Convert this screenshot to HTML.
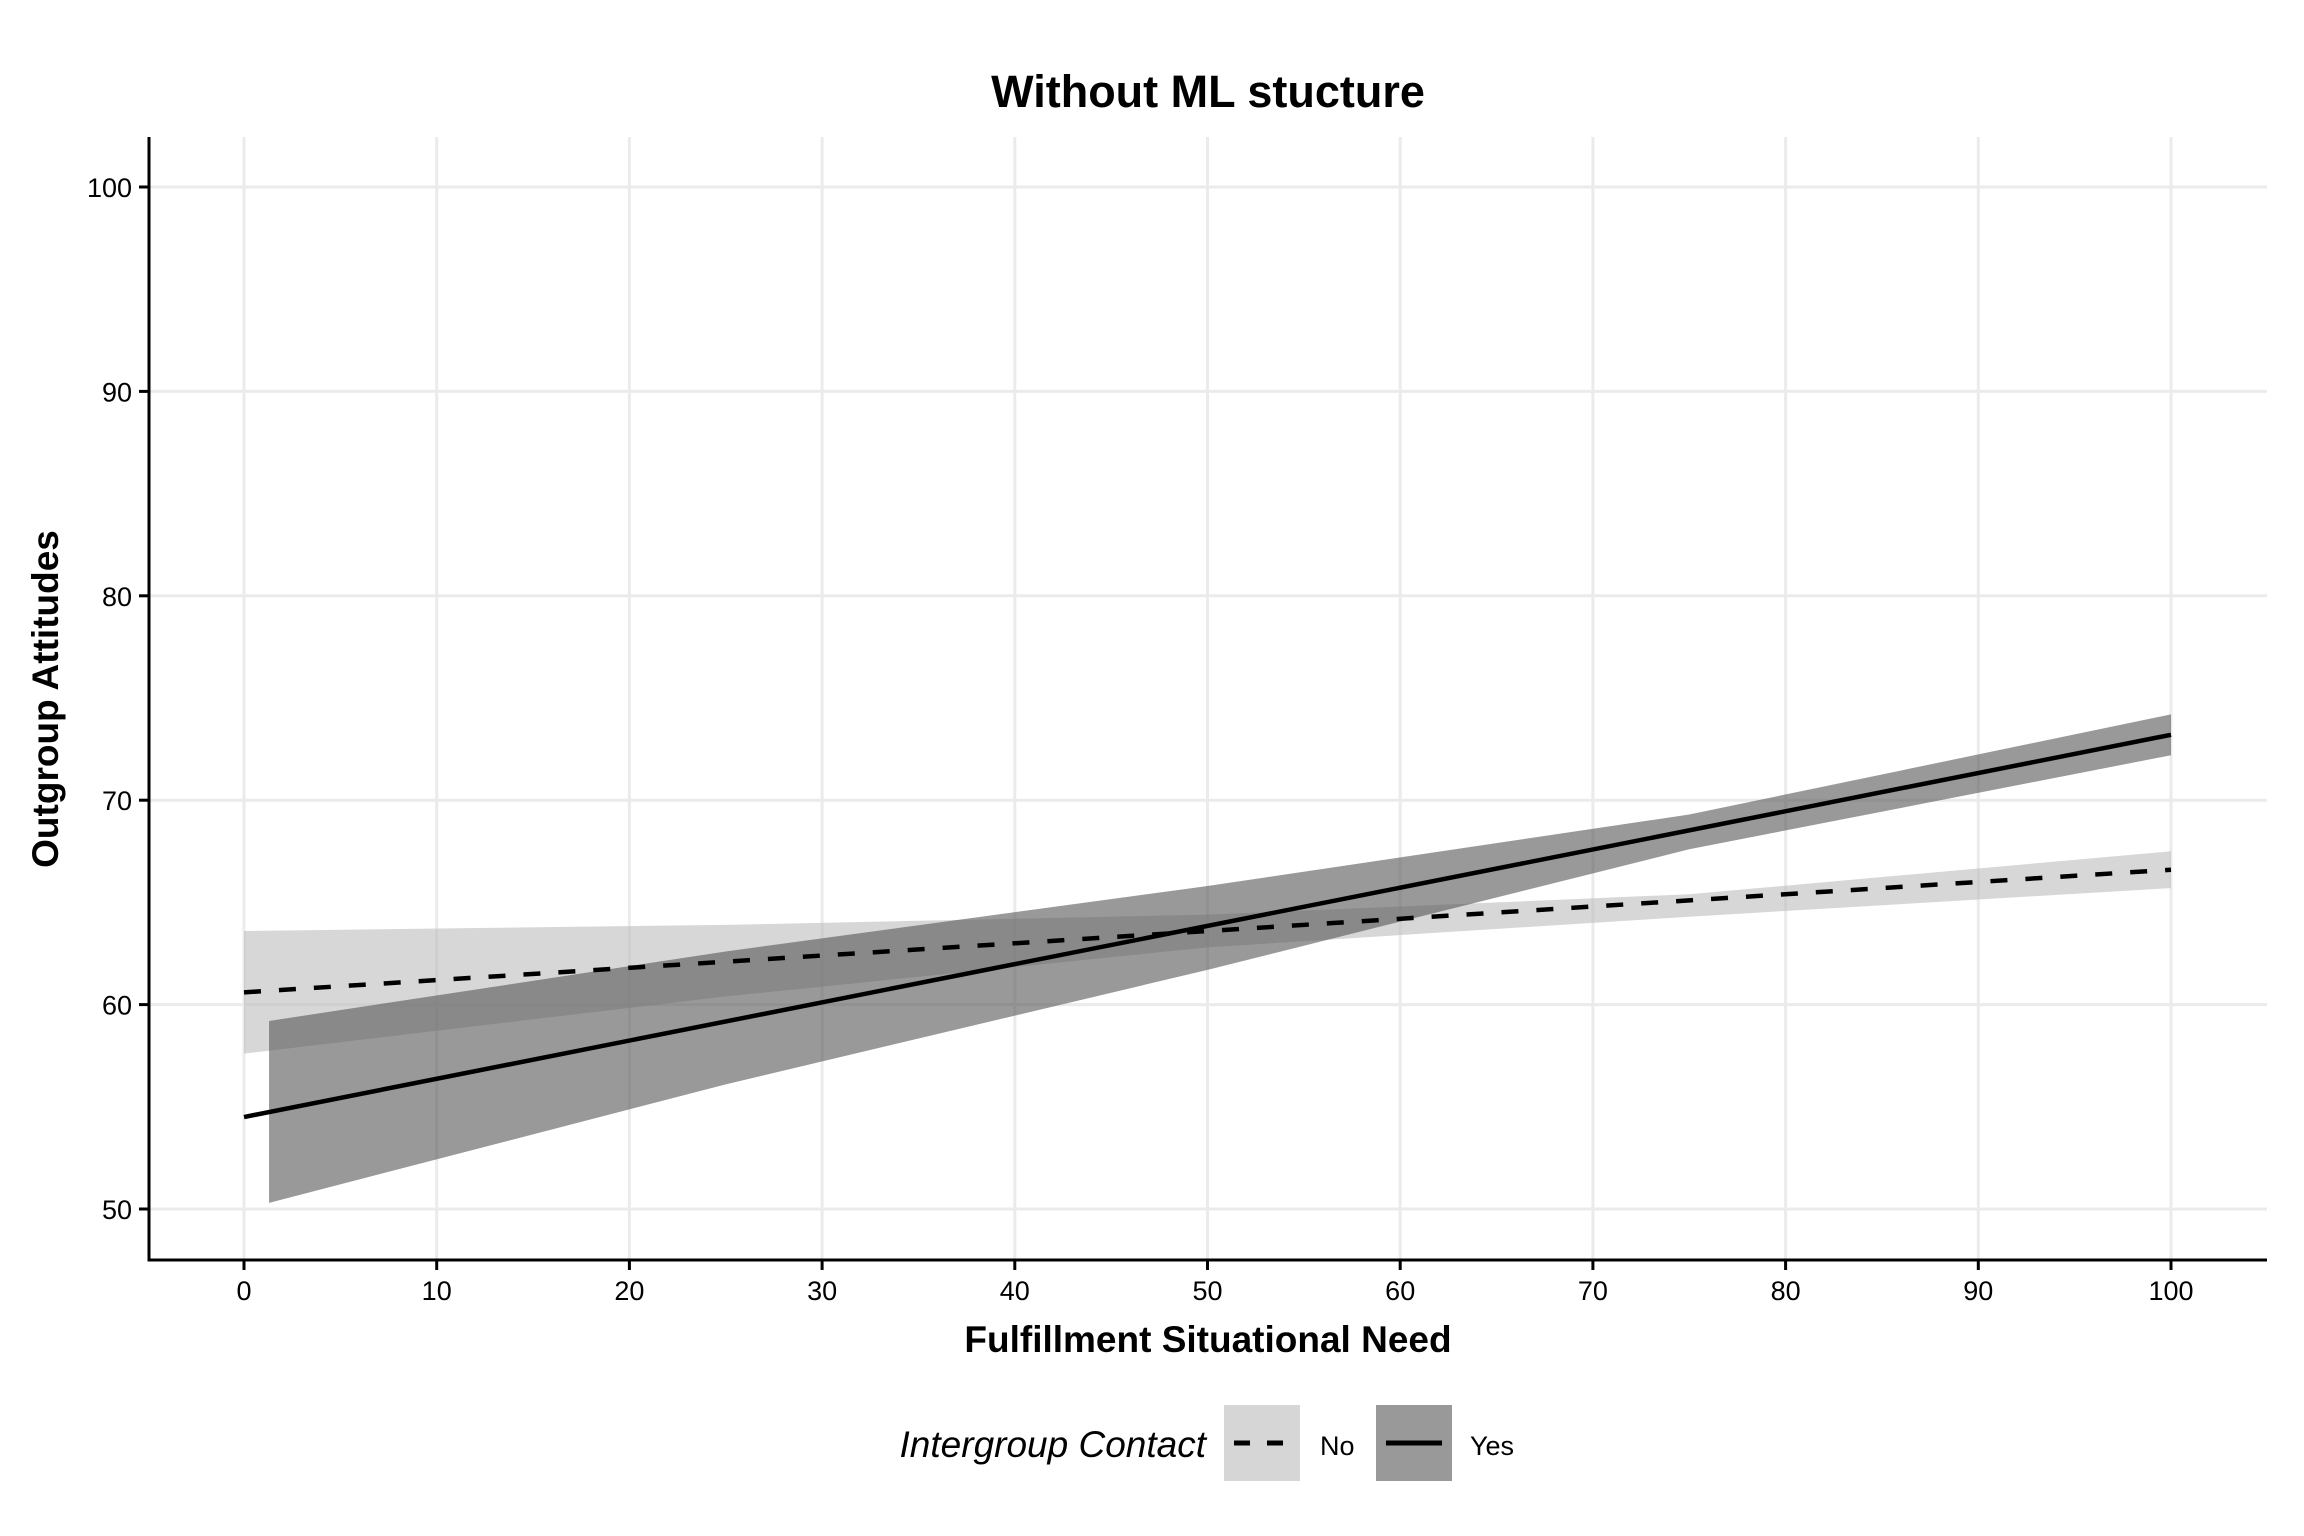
<!DOCTYPE html>
<html><head><meta charset="utf-8"><style>
html,body{margin:0;padding:0;background:#fff;}
svg{display:block;font-family:"Liberation Sans",Arial,sans-serif;}
</style></head><body>
<svg id="chart" width="2304" height="1536" viewBox="0 0 2304 1536">
<text x="1208" y="107" text-anchor="middle" font-size="45" font-weight="bold">Without ML stucture</text>
<g id="grid"></g>
<g id="bands"></g>
<g id="lines"></g>
<g id="axes"></g>
<text x="1208" y="1352" text-anchor="middle" font-size="37" font-weight="bold">Fulfillment Situational Need</text>
<text transform="translate(58,699) rotate(-90)" text-anchor="middle" font-size="37" font-weight="bold">Outgroup Attitudes</text>
<g>
<text x="1206" y="1457" text-anchor="end" font-size="37" font-style="italic">Intergroup Contact</text>
<g>
<rect x="1224" y="1405" width="76" height="76" fill="#d6d6d6"/>
<line x1="1234" y1="1443" x2="1290" y2="1443" stroke="#000" stroke-width="5" stroke-dasharray="16,17"/>
<text x="1320" y="1455" font-size="27">No</text>
</g>
<g>
<rect x="1376" y="1405" width="76" height="76" fill="#999"/>
<line x1="1386" y1="1443" x2="1442" y2="1443" stroke="#000" stroke-width="5"/>
<text x="1470" y="1455" font-size="27">Yes</text>
</g>
</g>
</svg>
<script>
const xTicks = [0,10,20,30,40,50,60,70,80,90,100];
const yTicks = [50,60,70,80,90,100];
const noX = [0,25,50,75,100];
const noFit = [60.6,62.1,63.6,65.1,66.6];
const noLower = [57.6,60.4,62.8,64.3,65.7];
const noUpper = [63.6,63.9,64.4,65.4,67.5];
const yesX = [1.3,25,50,75,100];
const yesFit = [54.7,59.2,63.9,68.5,73.2];
const yesLower = [50.3,56.1,61.7,67.6,72.2];
const yesUpper = [59.2,62.6,65.8,69.3,74.2];
const yesLineX = [0,100];
const yesLineY = [54.5,73.2];

const NS = "http://www.w3.org/2000/svg";
const xs = v => 244 + (v - 0) * (2171 - 244) / 100;
const ys = v => 1209 - (v - 50) * (1209 - 187) / 50;
function mk(tag, attrs, parent){
  const e = document.createElementNS(NS, tag);
  for (const k in attrs) e.setAttribute(k, attrs[k]);
  document.getElementById(parent).appendChild(e);
  return e;
}
xTicks.forEach(t => {
  const g = mk('line',{x1:xs(t),x2:xs(t),y1:137,y2:1260,stroke:'#ebebeb','stroke-width':3},'grid');
  
  
  const tk = mk('line',{x1:xs(t),x2:xs(t),y1:1260,y2:1270,stroke:'#000','stroke-width':3},'axes');
  
  
  const tl = mk('text',{x:xs(t),y:1300,'text-anchor':'middle','font-size':27},'axes');
  tl.textContent = t;
  
  
});
yTicks.forEach(t => {
  const g = mk('line',{x1:149,x2:2267,y1:ys(t),y2:ys(t),stroke:'#ebebeb','stroke-width':3},'grid');
  
  
  const tk = mk('line',{x1:139,x2:149,y1:ys(t),y2:ys(t),stroke:'#000','stroke-width':3},'axes');
  
  
  const tl = mk('text',{x:132,y:ys(t)+10,'text-anchor':'end','font-size':27},'axes');
  tl.textContent = t;
  
  
});
function band(xv, lo, hi, fill, name){
  let pts = xv.map((x,i)=>xs(x)+','+ys(hi[i]));
  pts = pts.concat(xv.map((x,i)=>xs(x)+','+ys(lo[i])).reverse());
  const p = mk('polygon',{points:pts.join(' '),fill:fill,'fill-opacity':0.6},'bands');
  
  
}
band(noX, noLower, noUpper, '#bdbdbd', 'band-no');
band(yesX, yesLower, yesUpper, '#555555', 'band-yes');
const l1 = mk('polyline',{points:noX.map((x,i)=>xs(x)+','+ys(noFit[i])).join(' '),fill:'none',stroke:'#000','stroke-width':4.5,'stroke-dasharray':'17,18'},'lines');


const l2 = mk('polyline',{points:yesLineX.map((x,i)=>xs(x)+','+ys(yesLineY[i])).join(' '),fill:'none',stroke:'#000','stroke-width':4.5},'lines');


const ax = mk('polyline',{points:'149,137 149,1260 2267,1260',fill:'none',stroke:'#000','stroke-width':3},'axes');


</script>
</body></html>
